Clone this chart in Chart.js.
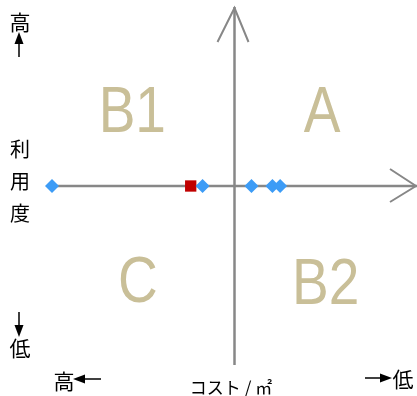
<!DOCTYPE html>
<html>
<head>
<meta charset="utf-8">
<script src="https://cdn.jsdelivr.net/npm/chart.js@4/dist/chart.umd.min.js"></script>
<style>
  html, body { margin: 0; padding: 0; background: #fff; }
  #wrap { width: 417px; height: 396px; }
</style>
</head>
<body>
<div id="wrap"><canvas id="quadrantChart" width="417" height="396"></canvas></div>
<script>
// cost index (x) and usage index (y) of each item, 0 = average
const itemCost = [-100, -17.5, 9.3, 20.8, 25]
const itemUsage = [0, 0, 0, 0, 0]
const targetCost = [-24]
const targetUsage = [0]

const quadrantNames = ['A', 'B1', 'C', 'B2']
const costTitle = 'コスト / ㎡'
const usageTitle = ['利', '用', '度']
const highLabel = '高'
const lowLabel = '低'

const AXIS_COLOR = '#878787'
const LABEL_COLOR = '#c9bf98'
const CJK_FONT = '"Noto Sans CJK JP", "Noto Sans", sans-serif'

function drawArrow(ctx, x1, y1, x2, y2) {
  const angle = Math.atan2(y2 - y1, x2 - x1)
  const len = 12
  const half = 4.5
  ctx.beginPath()
  ctx.moveTo(x1, y1)
  ctx.lineTo(x2 - Math.cos(angle) * len, y2 - Math.sin(angle) * len)
  ctx.stroke()
  ctx.beginPath()
  ctx.moveTo(x2, y2)
  ctx.lineTo(x2 - Math.cos(angle) * len - Math.sin(angle) * half, y2 - Math.sin(angle) * len + Math.cos(angle) * half)
  ctx.lineTo(x2 - Math.cos(angle) * len + Math.sin(angle) * half, y2 - Math.sin(angle) * len - Math.cos(angle) * half)
  ctx.closePath()
  ctx.fill()
}

const quadrantPlugin = {
  id: 'quadrant',
  beforeDatasetsDraw(chart) {
    const { ctx, chartArea, scales: { x, y } } = chart
    const x0 = x.getPixelForValue(0)
    const y0 = y.getPixelForValue(0)
    const left = x.getPixelForValue(x.min)
    const bottom = y.getPixelForValue(y.min)

    ctx.save()
    ctx.strokeStyle = AXIS_COLOR
    ctx.lineWidth = 2.5

    // horizontal axis with open arrow head
    ctx.beginPath()
    ctx.moveTo(left, y0)
    ctx.lineTo(chartArea.right, y0)
    ctx.stroke()
    ctx.lineWidth = 2
    ctx.beginPath()
    ctx.moveTo(chartArea.right - 27, y0 - 17)
    ctx.lineTo(chartArea.right - 1, y0)
    ctx.lineTo(chartArea.right - 27, y0 + 16)
    ctx.stroke()

    // vertical axis with open arrow head
    ctx.lineWidth = 2.5
    ctx.beginPath()
    ctx.moveTo(x0, bottom)
    ctx.lineTo(x0, chartArea.top)
    ctx.stroke()
    ctx.lineWidth = 2
    ctx.beginPath()
    ctx.moveTo(x0 - 17, chartArea.top + 35)
    ctx.lineTo(x0, chartArea.top + 1)
    ctx.lineTo(x0 + 14, chartArea.top + 35)
    ctx.stroke()

    // quadrant names (slightly condensed face)
    ctx.fillStyle = LABEL_COLOR
    ctx.font = '64px "Liberation Sans", Arial, sans-serif'
    ctx.textAlign = 'center'
    ctx.textBaseline = 'alphabetic'
    const spots = [[48, 43], [-56, 43], [-53, -52], [50, -53]]
    quadrantNames.forEach((name, i) => {
      const px = x.getPixelForValue(spots[i][0])
      const py = y.getPixelForValue(spots[i][1]) + 23
      ctx.save()
      ctx.translate(px, py)
      ctx.scale(0.86, 1)
      ctx.fillText(name, 0, 0)
      ctx.restore()
    })
    ctx.restore()
  },

  afterDraw(chart) {
    const { ctx } = chart
    ctx.save()
    ctx.fillStyle = '#000'
    ctx.strokeStyle = '#000'
    ctx.lineWidth = 1.5
    ctx.textAlign = 'center'
    ctx.textBaseline = 'middle'

    // usage (vertical) label, stacked characters
    ctx.font = '20px ' + CJK_FONT
    usageTitle.forEach((ch, i) => ctx.fillText(ch, 20, 149 + i * 32))

    // high / low markers on the usage side
    ctx.font = '21px ' + CJK_FONT
    ctx.fillText(highLabel, 20, 22)
    drawArrow(ctx, 19, 57, 19, 32)
    drawArrow(ctx, 19, 312, 19, 337)
    ctx.fillText(lowLabel, 20, 348)

    // high / low markers on the cost side
    ctx.fillText(highLabel, 64, 381)
    drawArrow(ctx, 101, 379, 73, 379)
    drawArrow(ctx, 365, 378, 392, 378)
    ctx.fillText(lowLabel, 403, 379)

    ctx.font = '17px ' + CJK_FONT
    ctx.fillText(costTitle, 231, 388)
    ctx.restore()
  }
}

const ctx = document.getElementById('quadrantChart')

new Chart(ctx, {
  type: 'scatter',
  data: {
    datasets: [
      {
        label: 'items',
        data: itemCost.map((c, i) => ({ x: c, y: itemUsage[i] })),
        pointStyle: 'rectRot',
        pointRadius: 7,
        backgroundColor: '#3d9cf6',
        borderWidth: 0,
        clip: false
      },
      {
        label: 'target',
        data: targetCost.map((c, i) => ({ x: c, y: targetUsage[i] })),
        pointStyle: 'rect',
        pointRadius: 8,
        backgroundColor: '#c00000',
        borderWidth: 0,
        clip: false
      }
    ]
  },
  options: {
    responsive: false,
    animation: false,
    events: [],
    layout: {
      autoPadding: false,
      padding: { left: 52, right: 0, top: 7, bottom: 31 }
    },
    plugins: {
      legend: { display: false },
      tooltip: { enabled: false }
    },
    scales: {
      x: { type: 'linear', min: -100, max: 100, display: false },
      y: { type: 'linear', min: -100, max: 100, display: false }
    }
  },
  plugins: [quadrantPlugin]
})
</script>
</body>
</html>
